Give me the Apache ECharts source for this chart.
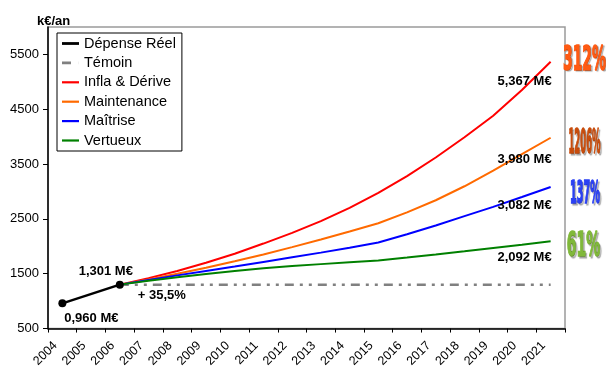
<!DOCTYPE html>
<html>
<head>
<meta charset="utf-8">
<script src="https://cdn.jsdelivr.net/npm/echarts@6/dist/echarts.min.js"></script>
<style>
  html, body { margin: 0; padding: 0; background: #fff; }
  #chart { width: 606px; height: 370px; }
</style>
</head>
<body>
<div id="chart"></div>
<script>
// Années (axe des catégories)
const years = ['2004','2005','2006','2007','2008','2009','2010','2011','2012','2013',
               '2014','2015','2016','2017','2018','2019','2020','2021'];

// Dépense réelle constatée (k€/an)
const reel = [960, null, 1301];

// Témoin : dépense figée au niveau 2006
const temoin = [null, null, 1301, 1301, 1301, 1301, 1301, 1301, 1301, 1301,
                1301, 1301, 1301, 1301, 1301, 1301, 1301, 1301];

// Scénarios de projection 2006-2021 (k€/an)
const infla = [null, null, 1301, 1420, 1550, 1700, 1865, 2050, 2245, 2460,
               2700, 2975, 3280, 3620, 3990, 4380, 4850, 5367];
const maintenance = [null, null, 1301, 1395, 1500, 1610, 1728, 1852, 1985, 2125,
                     2270, 2420, 2620, 2840, 3095, 3380, 3680, 3980];
const maitrise = [null, null, 1301, 1385, 1470, 1550, 1630, 1715, 1800, 1885,
                  1975, 2070, 2220, 2380, 2550, 2720, 2900, 3082];
const vertueux = [null, null, 1301, 1370, 1435, 1495, 1550, 1600, 1640, 1675,
                  1708, 1740, 1795, 1852, 1910, 1970, 2030, 2092];

// Graduations de l'axe vertical
const yTicks = [500, 1500, 2500, 3500, 4500, 5500];

// Hausse affichée en marge droite, par scénario
const growthTags = ['312%', '1206%', '137%', '61%'];

const FONT = '"Liberation Sans", Arial, sans-serif';

const chart = echarts.init(document.getElementById('chart'), null, { renderer: 'canvas' });

function lineSeries(name, data, color, extra) {
  return Object.assign({
    name: name,
    type: 'line',
    data: data,
    symbol: 'none',
    connectNulls: true,
    animation: false,
    color: color,
    lineStyle: { color: color, width: 2 },
    emphasis: { disabled: true }
  }, extra || {});
}

// Pictogrammes de légende : simple trait horizontal
const BAR = 'path://M0,0H17V2.2H0Z';
const BAR_THICK = 'path://M0,0H17V2.8H0Z';
const DASH = 'path://M0,0H9V2.6H0Z M16.9,0H17V2.6H16.9Z';

const option = {
  animation: false,
  grid: {
    left: 48, right: 41, top: 27, bottom: 40,
    show: true, borderColor: '#9a9a9a', borderWidth: 1.5
  },
  legend: {
    orient: 'vertical',
    left: 57, top: 33,
    backgroundColor: '#fff',
    borderColor: '#000', borderWidth: 1, borderRadius: 0,
    padding: [3, 6, 3, 5],
    itemWidth: 17, itemHeight: 14, itemGap: 4.4,
    symbolKeepAspect: true,
    textStyle: { fontSize: 14.5, fontFamily: FONT, color: '#000' },
    data: [
      { name: 'Dépense Réel', icon: BAR_THICK },
      { name: 'Témoin', icon: DASH },
      { name: 'Infla & Dérive', icon: BAR },
      { name: 'Maintenance', icon: BAR },
      { name: 'Maîtrise', icon: BAR },
      { name: 'Vertueux', icon: BAR }
    ]
  },
  xAxis: {
    type: 'category',
    data: years,
    boundaryGap: true,
    axisLine: { lineStyle: { color: '#000', width: 1.5 } },
    axisTick: { show: true, interval: 0, length: 4, lineStyle: { color: '#000' } },
    axisLabel: {
      interval: 0, rotate: 45, fontSize: 12.5, fontFamily: FONT, color: '#000',
      margin: 8, padding: [0, 10, 0, 0]
    },
    splitLine: { show: false }
  },
  yAxis: {
    type: 'value',
    min: 500, max: 6000, interval: 1000,
    axisLine: { show: true, lineStyle: { color: '#000', width: 1.5 } },
    axisTick: { show: true, length: 5, lineStyle: { color: '#000' }, customValues: yTicks },
    axisLabel: {
      fontSize: 13, fontFamily: FONT, color: '#000', margin: 9, customValues: yTicks,
      formatter: function (v) { return String(v); }
    },
    splitLine: { show: false }
  },
  series: [
    lineSeries('Dépense Réel', reel, '#000', {
      symbol: 'circle', symbolSize: 8, z: 5,
      lineStyle: { color: '#000', width: 2.5 },
      itemStyle: { color: '#000' }
    }),
    lineSeries('Témoin', temoin, '#808080', {
      lineStyle: { color: '#808080', width: 2.5, type: [9, 6, 3, 6, 3, 6] }
    }),
    lineSeries('Infla & Dérive', infla, '#ff0000'),
    lineSeries('Maintenance', maintenance, '#ff6a00'),
    lineSeries('Maîtrise', maitrise, '#0000ff'),
    lineSeries('Vertueux', vertueux, '#008000', { z: 3 })
  ]
};

chart.setOption(option);

// --- Annotations placées à partir des coordonnées calculées par les axes ---
function px(idx, val) {
  return chart.convertToPixel({ xAxisIndex: 0, yAxisIndex: 0 }, [idx, val]);
}
function meur(v) {
  return (v / 1000).toFixed(3).replace('.', ',') + ' M€';
}
function valueText(x, y, text, align) {
  return {
    type: 'text', x: x, y: y, z: 50,
    style: {
      text: text, fontSize: 13, fontWeight: 'bold', fontFamily: FONT, fill: '#000',
      align: align || 'center', verticalAlign: 'middle'
    }
  };
}

const graphics = [];
const last = years.length - 1;

// Valeurs finales de chaque scénario
[[infla, 20], [maintenance, 21.5], [maitrise, 18], [vertueux, 16]].forEach(function (item) {
  const v = item[0][last];
  const p = px(last, v);
  graphics.push(valueText(p[0] + 1, p[1] + item[1], meur(v), 'right'));
});

// Dépense réelle : point de départ et point 2006
const p0 = px(0, reel[0]);
graphics.push(valueText(p0[0] + 29, p0[1] + 15, meur(reel[0])));
const p2 = px(2, reel[2]);
graphics.push(valueText(p2[0] - 14, p2[1] - 13, meur(reel[2])));

// Hausse 2004 -> 2006
const hausse = ((reel[2] / reel[0] - 1) * 100).toFixed(1).replace('.', ',');
graphics.push(valueText(p2[0] + 42, p2[1] + 11, '+ ' + hausse + '%'));

// Unité de l'axe vertical
graphics.push({
  type: 'text', x: 37, y: 21, z: 50,
  style: { text: 'k€/an', fontSize: 13, fontWeight: 'bold', fontFamily: FONT, fill: '#000',
           align: 'left', verticalAlign: 'middle' }
});

// Pourcentages de hausse en marge droite (lettrage condensé)
const tagStyles = [
  { cx: 584.5, cy: 61,    size: 34,   sx: 0.41, color: '#ff5a12' },
  { cx: 584.5, cy: 144.5, size: 34,   sx: 0.25, color: '#c84c0c' },
  { cx: 585,   cy: 195,   size: 31.5, sx: 0.31, color: '#2a40f4' },
  { cx: 583.5, cy: 247.5, size: 34,   sx: 0.41, color: '#80b83a' }
];
growthTags.forEach(function (t, i) {
  const s = tagStyles[i];
  graphics.push({
    type: 'text', x: s.cx, y: s.cy, scaleX: s.sx, z: 50,
    style: {
      text: t, fontSize: s.size, fontWeight: 'bold', fontFamily: '"DejaVu Sans", sans-serif',
      align: 'center', verticalAlign: 'middle',
      fill: s.color, stroke: s.color, lineWidth: 1.6,
      textShadowColor: 'rgba(0,0,0,0.25)', textShadowOffsetX: 1.5, textShadowOffsetY: 1.5,
      textShadowBlur: 1
    }
  });
});

chart.setOption({ graphic: graphics });
</script>
</body>
</html>
